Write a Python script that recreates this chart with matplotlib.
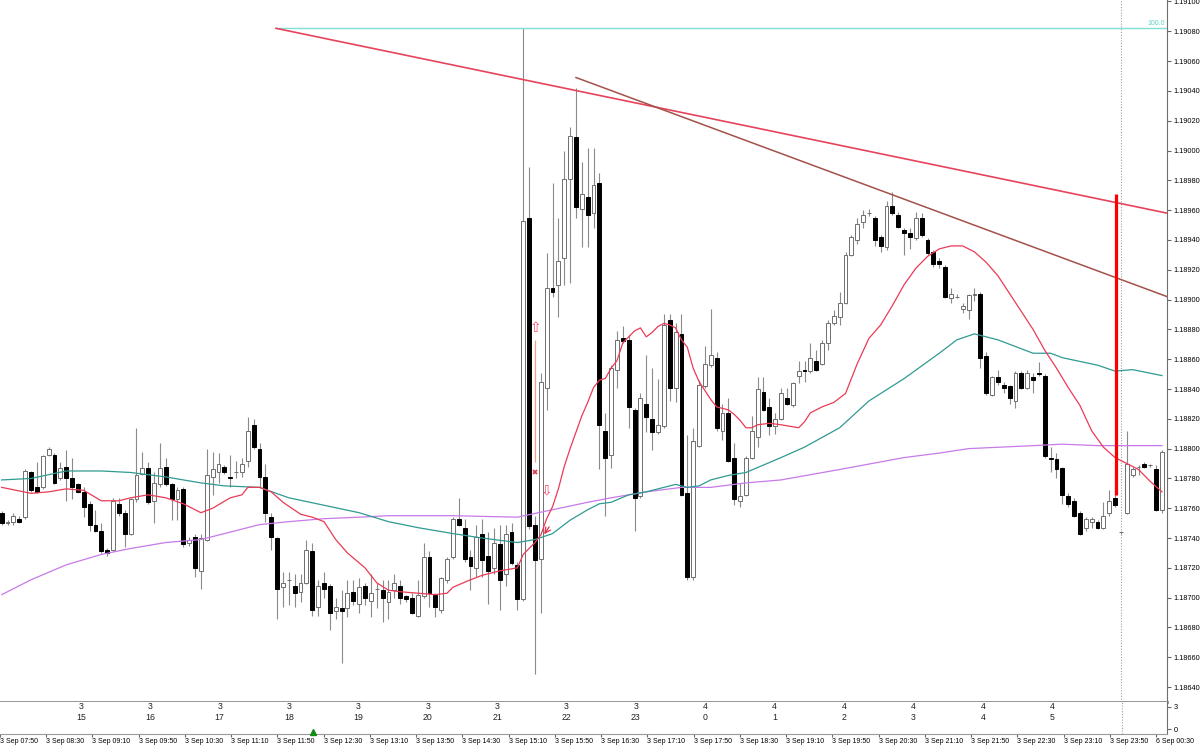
import numpy as np
import matplotlib.pyplot as plt
from matplotlib.ticker import FormatStrFormatter

plt.rcParams['font.family'] = ['Liberation Sans', 'DejaVu Sans']

# M5 bars, 3 Sep 08:05 .. 6 Sep 00:40
opens = [
    1.18757, 1.18750, 1.18751, 1.18753, 1.18754, 1.18784, 1.18774, 1.18774, 1.18796, 1.18796,
    1.18780, 1.18788, 1.18780, 1.18776, 1.18771, 1.18763, 1.18749, 1.18745, 1.18732, 1.18732,
    1.18763, 1.18757, 1.18743, 1.18766, 1.18783, 1.18787, 1.18765, 1.18776, 1.18788, 1.18776,
    1.18766, 1.18773, 1.18737, 1.18741, 1.18718, 1.18739, 1.18781, 1.18784, 1.18788, 1.18781,
    1.18784, 1.18784, 1.18792, 1.18816, 1.18800, 1.18781, 1.18754, 1.18740, 1.18707, 1.18712,
    1.18708, 1.18704, 1.18710, 1.18731, 1.18694, 1.18710, 1.18708, 1.18691, 1.18693, 1.18693,
    1.18704, 1.18696, 1.18708, 1.18698, 1.18706, 1.18705, 1.18697, 1.18705, 1.18708, 1.18701,
    1.18700, 1.18688, 1.18701, 1.18727, 1.18702, 1.18692, 1.18712, 1.18727, 1.18753, 1.18747,
    1.18727, 1.18720, 1.18743, 1.18728, 1.18720, 1.18736, 1.18716, 1.18744, 1.18722, 1.18699,
    1.18955, 1.18749, 1.18726, 1.18841, 1.18908, 1.18910, 1.18928, 1.18981, 1.19009, 1.18961,
    1.18969, 1.18958, 1.18978, 1.18812, 1.18796, 1.18853, 1.18874, 1.18873, 1.18826, 1.18768,
    1.18830, 1.18820, 1.18811, 1.18815, 1.18886, 1.18841, 1.18877, 1.18770, 1.18714, 1.18802,
    1.18842, 1.18856, 1.18861, 1.18812, 1.18824, 1.18794, 1.18765, 1.18769, 1.18794, 1.18808,
    1.18838, 1.18828, 1.18815, 1.18820, 1.18834, 1.18829, 1.18849, 1.18853, 1.18852, 1.18859,
    1.18857, 1.18871, 1.18884, 1.18888, 1.18898, 1.18930, 1.18940, 1.18952, 1.18958, 1.18955,
    1.18942, 1.18935, 1.18963, 1.18957, 1.18947, 1.18945, 1.18941, 1.18955, 1.18940, 1.18932,
    1.18926, 1.18922, 1.18901, 1.18902, 1.18894, 1.18893, 1.18903, 1.18904, 1.18862, 1.18836,
    1.18848, 1.18843, 1.18842, 1.18832, 1.18851, 1.18841, 1.18848, 1.18851, 1.18849, 1.18794,
    1.18793, 1.18787, 1.18768, 1.18765, 1.18757, 1.18747, 1.18751, 1.18751, 1.18747, 1.18757,
    1.18767, 1.18744, 1.18757, 1.18782, 1.18788, 1.18790, 1.18789, 1.18786, 1.18759,
]
highs = [
    1.18758, 1.18752, 1.18757, 1.18755, 1.18786, 1.18785, 1.18791, 1.18796, 1.18801, 1.18797,
    1.18791, 1.18799, 1.18794, 1.18777, 1.18774, 1.18765, 1.18759, 1.18750, 1.18733, 1.18767,
    1.18767, 1.18759, 1.18767, 1.18814, 1.18798, 1.18791, 1.18784, 1.18804, 1.18794, 1.18777,
    1.18774, 1.18774, 1.18741, 1.18743, 1.18743, 1.18800, 1.18798, 1.18797, 1.18789, 1.18796,
    1.18792, 1.18794, 1.18821, 1.18820, 1.18804, 1.18790, 1.18757, 1.18741, 1.18717, 1.18717,
    1.18716, 1.18716, 1.18739, 1.18737, 1.18712, 1.18717, 1.18709, 1.18700, 1.18705, 1.18712,
    1.18712, 1.18713, 1.18710, 1.18716, 1.18710, 1.18712, 1.18712, 1.18716, 1.18712, 1.18702,
    1.18703, 1.18712, 1.18737, 1.18731, 1.18703, 1.18714, 1.18727, 1.18754, 1.18767, 1.18753,
    1.18732, 1.18749, 1.18753, 1.18744, 1.18747, 1.18749, 1.18749, 1.18750, 1.18724, 1.19082,
    1.18989, 1.18755, 1.18851, 1.18931, 1.18978, 1.18955, 1.19000, 1.19016, 1.19042, 1.18992,
    1.19002, 1.19002, 1.18985, 1.18824, 1.18856, 1.18879, 1.18882, 1.18876, 1.18827, 1.18837,
    1.18863, 1.18854, 1.18847, 1.18890, 1.18890, 1.18884, 1.18890, 1.18809, 1.18814, 1.18846,
    1.18869, 1.18894, 1.18865, 1.18830, 1.18834, 1.18804, 1.18777, 1.18795, 1.18822, 1.18848,
    1.18848, 1.18834, 1.18824, 1.18841, 1.18841, 1.18845, 1.18859, 1.18859, 1.18871, 1.18866,
    1.18873, 1.18886, 1.18893, 1.18905, 1.18932, 1.18943, 1.18955, 1.18960, 1.18961, 1.18956,
    1.18943, 1.18966, 1.18972, 1.18959, 1.18948, 1.18948, 1.18959, 1.18958, 1.18941, 1.18933,
    1.18928, 1.18923, 1.18908, 1.18904, 1.18898, 1.18904, 1.18908, 1.18905, 1.18865, 1.18849,
    1.18853, 1.18845, 1.18843, 1.18852, 1.18852, 1.18853, 1.18851, 1.18858, 1.18850, 1.18801,
    1.18797, 1.18788, 1.18770, 1.18767, 1.18758, 1.18754, 1.18754, 1.18752, 1.18764, 1.18772,
    1.18786, 1.18745, 1.18812, 1.18788, 1.18789, 1.18791, 1.18790, 1.18789, 1.18799,
]
lows = [
    1.18749, 1.18749, 1.18749, 1.18750, 1.18753, 1.18771, 1.18770, 1.18773, 1.18795, 1.18776,
    1.18779, 1.18765, 1.18766, 1.18770, 1.18754, 1.18745, 1.18744, 1.18730, 1.18728, 1.18731,
    1.18755, 1.18734, 1.18742, 1.18764, 1.18782, 1.18763, 1.18750, 1.18774, 1.18775, 1.18752,
    1.18752, 1.18734, 1.18735, 1.18714, 1.18706, 1.18738, 1.18769, 1.18777, 1.18783, 1.18774,
    1.18780, 1.18781, 1.18788, 1.18800, 1.18774, 1.18751, 1.18732, 1.18686, 1.18694, 1.18695,
    1.18694, 1.18697, 1.18709, 1.18688, 1.18688, 1.18700, 1.18678, 1.18686, 1.18656, 1.18687,
    1.18695, 1.18690, 1.18695, 1.18687, 1.18693, 1.18684, 1.18686, 1.18700, 1.18696, 1.18697,
    1.18689, 1.18687, 1.18700, 1.18694, 1.18687, 1.18690, 1.18710, 1.18726, 1.18748, 1.18724,
    1.18705, 1.18714, 1.18714, 1.18696, 1.18716, 1.18692, 1.18708, 1.18722, 1.18692, 1.18698,
    1.18746, 1.18649, 1.18690, 1.18826, 1.18902, 1.18888, 1.18910, 1.18911, 1.18955, 1.18935,
    1.18935, 1.18948, 1.18786, 1.18755, 1.18787, 1.18841, 1.18871, 1.18814, 1.18745, 1.18767,
    1.18811, 1.18799, 1.18810, 1.18814, 1.18832, 1.18831, 1.18768, 1.18712, 1.18712, 1.18801,
    1.18841, 1.18855, 1.18812, 1.18806, 1.18791, 1.18762, 1.18761, 1.18768, 1.18793, 1.18801,
    1.18825, 1.18809, 1.18810, 1.18819, 1.18829, 1.18828, 1.18844, 1.18845, 1.18851, 1.18852,
    1.18856, 1.18866, 1.18883, 1.18883, 1.18897, 1.18929, 1.18937, 1.18948, 1.18956, 1.18936,
    1.18932, 1.18933, 1.18957, 1.18948, 1.18930, 1.18934, 1.18940, 1.18942, 1.18930, 1.18922,
    1.18921, 1.18901, 1.18898, 1.18901, 1.18891, 1.18887, 1.18899, 1.18854, 1.18836, 1.18835,
    1.18843, 1.18837, 1.18830, 1.18827, 1.18840, 1.18840, 1.18837, 1.18849, 1.18794, 1.18784,
    1.18780, 1.18763, 1.18761, 1.18754, 1.18742, 1.18745, 1.18747, 1.18746, 1.18746, 1.18755,
    1.18761, 1.18743, 1.18756, 1.18781, 1.18782, 1.18787, 1.18788, 1.18758, 1.18757,
]
closes = [
    1.18750, 1.18751, 1.18755, 1.18751, 1.18785, 1.18772, 1.18771, 1.18795, 1.18800, 1.18777,
    1.18787, 1.18780, 1.18774, 1.18771, 1.18761, 1.18749, 1.18745, 1.18731, 1.18730, 1.18765,
    1.18757, 1.18743, 1.18766, 1.18782, 1.18787, 1.18764, 1.18777, 1.18787, 1.18776, 1.18766,
    1.18772, 1.18736, 1.18739, 1.18720, 1.18740, 1.18782, 1.18786, 1.18790, 1.18784, 1.18780,
    1.18784, 1.18790, 1.18812, 1.18801, 1.18781, 1.18757, 1.18741, 1.18706, 1.18710, 1.18712,
    1.18703, 1.18710, 1.18732, 1.18692, 1.18708, 1.18706, 1.18690, 1.18694, 1.18691, 1.18703,
    1.18698, 1.18707, 1.18700, 1.18703, 1.18706, 1.18700, 1.18704, 1.18710, 1.18700, 1.18699,
    1.18690, 1.18702, 1.18727, 1.18703, 1.18694, 1.18713, 1.18726, 1.18753, 1.18749, 1.18726,
    1.18721, 1.18741, 1.18725, 1.18718, 1.18737, 1.18712, 1.18743, 1.18723, 1.18699, 1.18953,
    1.18748, 1.18725, 1.18845, 1.18908, 1.18905, 1.18926, 1.18981, 1.19010, 1.18962, 1.18971,
    1.18957, 1.18977, 1.18816, 1.18794, 1.18854, 1.18873, 1.18872, 1.18828, 1.18767, 1.18834,
    1.18821, 1.18811, 1.18816, 1.18883, 1.18841, 1.18878, 1.18769, 1.18714, 1.18805, 1.18843,
    1.18857, 1.18863, 1.18814, 1.18824, 1.18792, 1.18766, 1.18768, 1.18794, 1.18812, 1.18840,
    1.18826, 1.18815, 1.18820, 1.18837, 1.18830, 1.18844, 1.18852, 1.18852, 1.18861, 1.18853,
    1.18871, 1.18884, 1.18889, 1.18898, 1.18930, 1.18942, 1.18951, 1.18957, 1.18958, 1.18940,
    1.18936, 1.18963, 1.18958, 1.18949, 1.18945, 1.18942, 1.18955, 1.18943, 1.18931, 1.18924,
    1.18924, 1.18902, 1.18904, 1.18902, 1.18896, 1.18903, 1.18904, 1.18861, 1.18837, 1.18848,
    1.18845, 1.18841, 1.18834, 1.18851, 1.18841, 1.18851, 1.18846, 1.18850, 1.18795, 1.18793,
    1.18786, 1.18769, 1.18763, 1.18755, 1.18743, 1.18753, 1.18753, 1.18747, 1.18755, 1.18765,
    1.18762, 1.18744, 1.18790, 1.18786, 1.18788, 1.18788, 1.18789, 1.18759, 1.18798,
]

# moving averages, read at some bars
red_ma_bars = [0, 5, 8, 11, 14, 17, 20, 22, 25, 28, 31, 34, 36, 39, 41, 42, 44, 46, 48, 51,
               53, 55, 57, 59, 62, 64, 66, 68, 71, 74, 76, 77, 80, 82, 85, 88, 89, 90, 91, 92,
               93, 94, 95, 96, 97, 98, 99, 100, 101, 102, 103, 104, 105, 106, 107, 108, 109, 110, 111, 112,
               113, 114, 115, 116, 117, 118, 119, 120, 121, 122, 123, 124, 125, 126, 127, 128, 129, 131, 133, 136,
               137, 138, 140, 142, 144, 146, 148, 150, 152, 154, 156, 158, 160, 162, 164, 166, 168, 170, 172, 174,
               176, 178, 180, 182, 184, 186, 188, 190, 192, 194, 196, 198]
red_ma = [1.18774, 1.18770, 1.18771, 1.18773, 1.18772, 1.18765, 1.18765, 1.18767, 1.18769, 1.18767,
          1.18763, 1.18757, 1.18760, 1.18767, 1.18769, 1.18774, 1.18774, 1.18771, 1.18764, 1.18756,
          1.18754, 1.18751, 1.18739, 1.18730, 1.18720, 1.18710, 1.18705, 1.18704, 1.18703, 1.18702,
          1.18703, 1.18707, 1.18712, 1.18715, 1.18718, 1.18720, 1.18729, 1.18733, 1.18737, 1.18742,
          1.18753, 1.18761, 1.18773, 1.18788, 1.18800, 1.18811, 1.18822, 1.18831, 1.18841, 1.18846,
          1.18847, 1.18854, 1.18859, 1.18871, 1.18875, 1.18879, 1.18881, 1.18875, 1.18878, 1.18882,
          1.18884, 1.18883, 1.18881, 1.18873, 1.18868, 1.18854, 1.18845, 1.18839, 1.18833, 1.18828,
          1.18827, 1.18826, 1.18823, 1.18819, 1.18814, 1.18814, 1.18816, 1.18817, 1.18816, 1.18814,
          1.18818, 1.18824, 1.18828, 1.18831, 1.18837, 1.18857, 1.18874, 1.18883, 1.18896, 1.18910,
          1.18921, 1.18929, 1.18934, 1.18936, 1.18936, 1.18932, 1.18925, 1.18916, 1.18904, 1.18892,
          1.18880, 1.18866, 1.18854, 1.18841, 1.18829, 1.18812, 1.18801, 1.18794, 1.18790, 1.18786,
          1.18778, 1.18771]

teal_ma_bars = [0, 5, 11, 17, 22, 28, 34, 38, 44, 49, 55, 61, 66, 71, 77, 82, 88, 91, 94, 97,
                100, 102, 104, 107, 110, 115, 117, 119, 121, 124, 127, 130, 133, 137, 143, 148, 154, 160, 163, 166,
                170, 176, 179, 181, 187, 190, 193, 198]
teal_ma = [1.18779, 1.18780, 1.18785, 1.18785, 1.18784, 1.18781, 1.18777, 1.18775, 1.18774, 1.18767,
           1.18762, 1.18757, 1.18751, 1.18747, 1.18743, 1.18740, 1.18737, 1.18739, 1.18743, 1.18752,
           1.18759, 1.18763, 1.18764, 1.18769, 1.18771, 1.18776, 1.18774, 1.18775, 1.18779, 1.18782,
           1.18784, 1.18789, 1.18794, 1.18801, 1.18814, 1.18832, 1.18847, 1.18864, 1.18873, 1.18877,
           1.18873, 1.18864, 1.18864, 1.18861, 1.18856, 1.18852, 1.18853, 1.18849]

purple_ma_bars = [0, 5, 11, 17, 22, 28, 34, 38, 44, 49, 55, 61, 66, 77, 88, 94, 100, 104, 110, 116,
                  121, 127, 133, 143, 154, 160, 165, 176, 181, 187, 198]
purple_ma = [1.18702, 1.18712, 1.18722, 1.18729, 1.18733, 1.18737, 1.18739, 1.18743, 1.18749, 1.18751,
             1.18753, 1.18754, 1.18755, 1.18755, 1.18754, 1.18759, 1.18764, 1.18767, 1.18771, 1.18774,
             1.18774, 1.18777, 1.18779, 1.18786, 1.18794, 1.18797, 1.18800, 1.18802, 1.18803, 1.18802,
             1.18802]

# drawn objects (bar index, price)
red_trend = [(46.8, 1.19082), (198.86, 1.18958)]
brown_trend = [(98.0, 1.19049), (198.86, 1.18902)]
fib_level = 1.19082
red_vline = (190.2, 1.18769, 1.18971)
week_sep = 191

# day/hour in the sub window, one label per 12 bars
hour_days = [3, 3, 3, 3, 3, 3, 3, 3, 3, 4, 4, 4, 4, 4, 4]
hour_hours = [15, 16, 17, 18, 19, 20, 21, 22, 23, 0, 1, 2, 3, 4, 5]

time_labels = ['3 Sep 07:50', '3 Sep 08:30', '3 Sep 09:10', '3 Sep 09:50', '3 Sep 10:30',
               '3 Sep 11:10', '3 Sep 11:50', '3 Sep 12:30', '3 Sep 13:10', '3 Sep 13:50',
               '3 Sep 14:30', '3 Sep 15:10', '3 Sep 15:50', '3 Sep 16:30', '3 Sep 17:10',
               '3 Sep 17:50', '3 Sep 18:30', '3 Sep 19:10', '3 Sep 19:50', '3 Sep 20:30',
               '3 Sep 21:10', '3 Sep 21:50', '3 Sep 22:30', '3 Sep 23:10', '3 Sep 23:50',
               '6 Sep 00:30']

o = np.array(opens)
h = np.array(highs)
l = np.array(lows)
c = np.array(closes)
x = np.arange(len(o))
up = c >= o

fig = plt.figure(figsize=(12, 7.46), dpi=100)
ax = fig.add_axes([0, 0.05898, 0.9725, 0.94102])
sub = fig.add_axes([0, 0.01609, 0.9725, 0.0429])

# candles
ax.vlines(x, l, h, color='#8a8a8a', lw=0.8, zorder=1)
ax.bar(x[up], (c - o)[up], bottom=o[up], width=0.66, facecolor='white',
       edgecolor='#6e6e6e', lw=0.7, zorder=2)
ax.bar(x[~up], (c - o)[~up], bottom=o[~up], width=0.66, facecolor='black',
       edgecolor='black', lw=0.7, zorder=2)

# MAs
ax.plot(purple_ma_bars, purple_ma, color='#c77ae8', lw=0.9, zorder=3)
ax.plot(teal_ma_bars, teal_ma, color='#2f9a92', lw=0.9, zorder=3)
ax.plot(red_ma_bars, red_ma, color='#eb3a55', lw=0.9, zorder=3)

# objects
ax.hlines(fib_level, red_trend[0][0], 198.86, color='#80e0d6', lw=1.0, zorder=3)
ax.text(198.5, fib_level + 0.000012, '100.0', color='#5fd3c8', fontsize=5,
        ha='right', va='bottom')
ax.plot([p[0] for p in red_trend], [p[1] for p in red_trend], color='#e8435c', lw=1.2, zorder=4)
ax.plot([p[0] for p in brown_trend], [p[1] for p in brown_trend], color='#a3514a', lw=1.1, zorder=4)
ax.vlines(red_vline[0], red_vline[1], red_vline[2], color='#ff0000', lw=2.3, zorder=5)
ax.axvline(week_sep, color='#a0a0a0', lw=0.8, ls=(0, (1, 1.5)), zorder=1)
sub.axvline(week_sep, color='#a0a0a0', lw=0.8, ls=(0, (1, 1.5)))

# trade marks
ax.vlines(91, 1.18791, 1.18873, color='#f7a07a', lw=0.9, zorder=4)
ax.text(91, 1.18881, '\u21e7', color='#f0506a', fontsize=10, ha='center', va='center',
        family=['DejaVu Sans'], zorder=6)
ax.plot(91, 1.18784, marker='x', ms=3.5, mew=1.2, color='#e0304a', zorder=6)
ax.text(93, 1.18772, '\u21e9', color='#f0506a', fontsize=10, ha='center', va='center',
        family=['DejaVu Sans'], zorder=6)
ax.annotate('', xy=(92.3, 1.18741), xytext=(93.7, 1.18749),
            arrowprops=dict(arrowstyle='->', color='#e0304a', lw=0.9), zorder=6)

ax.set_xlim(-0.29, 198.86)
ax.set_ylim(1.18630, 1.19101)
ax.yaxis.tick_right()
ax.set_yticks(np.round(np.arange(1.18640, 1.19101, 0.0002), 5))
ax.yaxis.set_major_formatter(FormatStrFormatter('%.5f'))
ax.tick_params(axis='y', direction='out', length=3, pad=1.5, labelsize=5.3,
               color='#666666')
ax.tick_params(axis='x', bottom=False, labelbottom=False)
for s in ['left', 'top']:
    ax.spines[s].set_visible(False)
ax.spines['right'].set_color('#6e6e6e')
ax.spines['right'].set_linewidth(0.8)
ax.spines['bottom'].set_color('#8c8c8c')
ax.spines['bottom'].set_linewidth(2)

# sub window
sub.set_xlim(-0.29, 198.86)
sub.set_ylim(-0.68, 3.68)
for i, (d, hr) in enumerate(zip(hour_days, hour_hours)):
    sub.text(11 + 12 * i, 2.3, f'{d}\n{hr}', ha='center', va='center',
             fontsize=6.3, linespacing=1.3, color='#222222')
sub.yaxis.tick_right()
sub.set_yticks([0, 3])
sub.tick_params(axis='y', direction='out', length=3, pad=1.5, labelsize=5.3,
                color='#666666')
sub.set_xticks(np.arange(len(time_labels)) * 8 - 3)
sub.set_xticklabels(time_labels, fontsize=5, ha='left')
sub.tick_params(axis='x', direction='out', length=2, pad=1, color='#666666')
for s in ['left', 'top']:
    sub.spines[s].set_visible(False)
sub.spines['right'].set_color('#6e6e6e')
sub.spines['right'].set_linewidth(0.8)
sub.spines['bottom'].set_color('#9a9a9a')
sub.spines['bottom'].set_linewidth(0.8)
sub.plot(51.2, -0.41, marker='^', ms=4, color='#138a13', clip_on=False, zorder=5)

fig.savefig('out.png', dpi=100, facecolor='white')
